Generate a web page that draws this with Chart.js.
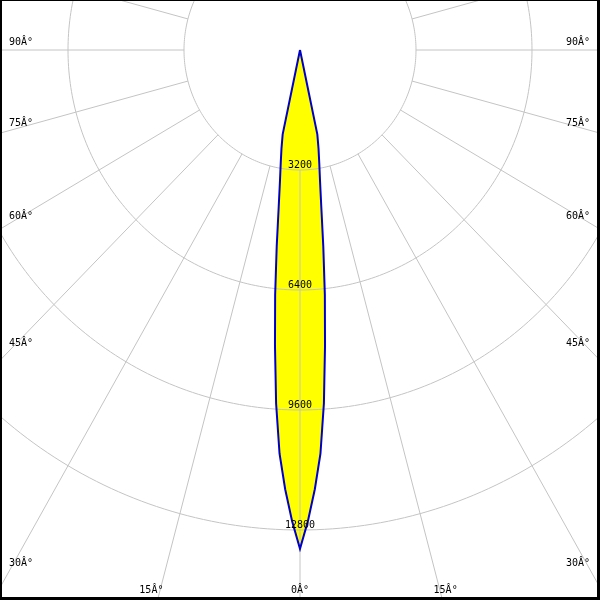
<!DOCTYPE html>
<html>
<head>
<meta charset="utf-8">
<script src="https://cdn.jsdelivr.net/npm/chart.js@4/dist/chart.umd.min.js"></script>
<style>
  html, body { margin: 0; padding: 0; background: #ffffff; }
  #wrap { width: 600px; height: 600px; }
</style>
</head>
<body>
<div id="wrap"><canvas id="c" width="600" height="600"></canvas></div>
<script>
// ---- data ----
// beam angle in degrees (0 = straight down) and luminous intensity
const angles      = [-13, -12, -11, -10, -9, -8, -7, -6, -5, -4, -3, -2, -1, 0,
                       1, 2, 3, 4, 5, 6, 7, 8, 9, 10, 11, 12, 13];
const intensities = [0, 2300, 2680, 3060, 3530, 4220, 5270, 6560, 7920, 9450, 10780, 11720, 12560, 13300,
                     12560, 11720, 10780, 9450, 7920, 6560, 5270, 4220, 3530, 3060, 2680, 2300, 0];
// grid rings and their labels
const rings       = [3200, 6400, 9600, 12800];
const ringLabels  = ["3200", "6400", "9600", "12800"];
// angular grid every 15 degrees, labelled ones
const spokeAngles = [0, 15, 30, 45, 60, 75, 90, 105, 120, 135, 150, 165, 180,
                     195, 210, 225, 240, 255, 270, 285, 300, 315, 330, 345];
const sideLabelAngles   = [30, 45, 60, 75, 90];
const bottomLabelAngles = [0, 15];
const degSuffix = "Â°";

// ---- helpers ----
const rad = d => d * Math.PI / 180;
const toXY = (deg, r) => ({ x: r * Math.sin(rad(deg)), y: -r * Math.cos(rad(deg)) });
const beamPoints = angles.map((a, i) => toXY(a, intensities[i]));

const GRID = '#c4c4c4';
const FONT = '10px "DejaVu Sans Mono", "Liberation Mono", monospace';

function px(chart, p) {
  return { x: chart.scales.x.getPixelForValue(p.x), y: chart.scales.y.getPixelForValue(p.y) };
}

const gridPlugin = {
  id: 'polarGrid',
  afterDatasetDraw(chart, args) {
    if (args.index !== 0) return;
    const ctx = chart.ctx, ca = chart.chartArea;
    ctx.save();
    ctx.beginPath();
    ctx.rect(ca.left, ca.top, ca.right - ca.left, ca.bottom - ca.top);
    ctx.clip();
    ctx.strokeStyle = GRID;
    ctx.lineWidth = 1;
    rings.forEach(r => {
      ctx.beginPath();
      for (let d = 0; d <= 360; d += 1) {
        const p = px(chart, toXY(d, r));
        if (d === 0) ctx.moveTo(p.x, p.y); else ctx.lineTo(p.x, p.y);
      }
      ctx.closePath();
      ctx.stroke();
    });
    spokeAngles.forEach(a => {
      const p0 = px(chart, toXY(a, rings[0]));
      const p1 = px(chart, toXY(a, 40000));
      ctx.beginPath();
      ctx.moveTo(p0.x, p0.y);
      ctx.lineTo(p1.x, p1.y);
      ctx.stroke();
    });
    ctx.restore();
  },
  afterDraw(chart) {
    const ctx = chart.ctx;
    const W = chart.width, H = chart.height;
    ctx.save();
    ctx.fillStyle = '#000000';
    ctx.font = FONT;
    // ring labels
    ctx.textAlign = 'center';
    ctx.textBaseline = 'middle';
    rings.forEach((r, i) => {
      const p = px(chart, toXY(0, r));
      ctx.fillText(ringLabels[i], p.x, p.y - 5);
    });
    // side angle labels: at the height where the spoke meets the left margin
    const c = px(chart, { x: 0, y: 0 });
    const leftX = 9, rightX = 566;
    ctx.textBaseline = 'alphabetic';
    sideLabelAngles.forEach(a => {
      const p = px(chart, toXY(-a, 10000));
      const t = (leftX - c.x) / (p.x - c.x);
      const y = c.y + t * (p.y - c.y);
      ctx.textAlign = 'left';
      ctx.fillText(a + degSuffix, leftX, y - 5);
      ctx.fillText(a + degSuffix, rightX, y - 5);
    });
    // bottom angle labels: where the spoke reaches the bottom band
    const by = 593;
    bottomLabelAngles.forEach(a => {
      const p = px(chart, toXY(a, 10000));
      const t = (by - 4 - c.y) / (p.y - c.y);
      const x = c.x + t * (p.x - c.x);
      ctx.textAlign = 'center';
      if (a === 0) {
        ctx.fillText(a + degSuffix, x, by);
      } else {
        const dx = x - c.x;
        ctx.fillText(a + degSuffix, c.x - dx - 9, by);
        ctx.fillText(a + degSuffix, c.x + dx + 6, by);
      }
    });
    // frame
    ctx.fillRect(0, 0, W, 1);
    ctx.fillRect(0, 0, 2, H);
    ctx.fillRect(0, H - 3, W, 3);
    ctx.fillRect(W - 3, 0, 3, H);
    ctx.restore();
  }
};

// scale ranges: centre of the diagram at pixel (300, 50)
const unitsPerPxX = 3200 / 116;
const unitsPerPxY = 3200 / 120;

new Chart(document.getElementById('c'), {
  type: 'scatter',
  data: {
    datasets: [
      {
        data: beamPoints,
        showLine: true,
        fill: 'shape',
        backgroundColor: '#ffff00',
        borderWidth: 0,
        borderColor: 'rgba(0,0,0,0)',
        pointRadius: 0,
        tension: 0,
        order: 2
      },
      {
        data: beamPoints,
        showLine: true,
        fill: false,
        borderColor: '#0000c8',
        borderWidth: 2,
        pointRadius: 0,
        tension: 0,
        order: 1
      }
    ]
  },
  options: {
    responsive: false,
    animation: false,
    devicePixelRatio: 1,
    layout: { padding: 0 },
    plugins: { legend: { display: false }, tooltip: { enabled: false }, title: { display: false } },
    scales: {
      x: { type: 'linear', display: false, min: -300 * unitsPerPxX, max: 300 * unitsPerPxX },
      y: { type: 'linear', display: false, min: -550 * unitsPerPxY, max: 50 * unitsPerPxY }
    }
  },
  plugins: [gridPlugin]
});
</script>
</body>
</html>
